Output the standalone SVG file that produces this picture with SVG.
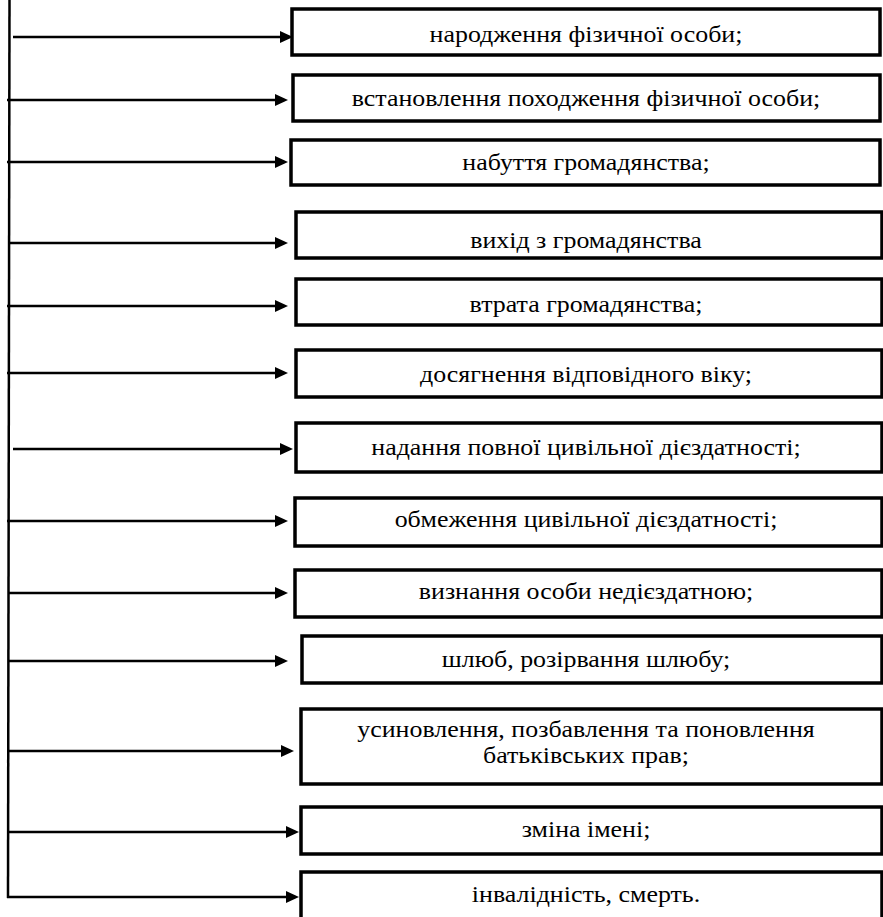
<svg xmlns="http://www.w3.org/2000/svg" width="883" height="917" viewBox="0 0 883 917">
<style>
.box{fill:#fff;stroke:#000;stroke-width:3.5}
.ln{stroke:#000;stroke-width:2.5;fill:none}
.hd{fill:#000}
text{font-family:"Liberation Serif","Times New Roman",serif;font-size:24px;fill:#000;text-anchor:middle}
</style>
<rect width="883" height="917" fill="#fff"/>
<g id="connectors">
<line class="ln" x1="9.5" y1="0" x2="8" y2="898"/>
<line class="ln" x1="13" y1="37" x2="282" y2="37"/><polygon class="hd" points="293,37 280,31 280,43"/>
<line class="ln" x1="7" y1="100" x2="277" y2="100"/><polygon class="hd" points="288,100 275,94 275,106"/>
<line class="ln" x1="7" y1="162" x2="277" y2="162"/><polygon class="hd" points="288,162 275,156 275,168"/>
<line class="ln" x1="9" y1="243" x2="277" y2="243"/><polygon class="hd" points="288,243 275,237 275,249"/>
<line class="ln" x1="7" y1="306" x2="277" y2="306"/><polygon class="hd" points="288,306 275,300 275,312"/>
<line class="ln" x1="7" y1="373" x2="277" y2="373"/><polygon class="hd" points="288,373 275,367 275,379"/>
<line class="ln" x1="13" y1="449" x2="282" y2="449"/><polygon class="hd" points="293,449 280,443 280,455"/>
<line class="ln" x1="7" y1="521" x2="277" y2="521"/><polygon class="hd" points="288,521 275,515 275,527"/>
<line class="ln" x1="9" y1="593" x2="277" y2="593"/><polygon class="hd" points="288,593 275,587 275,599"/>
<line class="ln" x1="9" y1="661" x2="277" y2="661"/><polygon class="hd" points="288,661 275,655 275,667"/>
<line class="ln" x1="7" y1="751" x2="283" y2="751"/><polygon class="hd" points="294,751 281,745 281,757"/>
<line class="ln" x1="9" y1="832" x2="288" y2="832"/><polygon class="hd" points="299,832 286,826 286,838"/>
<line class="ln" x1="7" y1="897" x2="288" y2="897"/><polygon class="hd" points="299,897 286,891 286,903"/>
</g>
<g id="n1"><rect class="box" x="292" y="9" width="588" height="46"/><text x="586" y="42" transform="matrix(1.08 0 0 1 -46.88 0)">народження фізичної особи;</text></g>
<g id="n2"><rect class="box" x="293" y="75" width="587" height="46"/><text x="586" y="106" transform="matrix(1.08 0 0 1 -46.88 0)">встановлення походження фізичної особи;</text></g>
<g id="n3"><rect class="box" x="291" y="140" width="589" height="45"/><text x="586" y="170" transform="matrix(1.08 0 0 1 -46.88 0)">набуття громадянства;</text></g>
<g id="n4"><rect class="box" x="296" y="212" width="586" height="46"/><text x="586" y="248" transform="matrix(1.08 0 0 1 -46.88 0)">вихід з громадянства</text></g>
<g id="n5"><rect class="box" x="296" y="279" width="586" height="46"/><text x="586" y="312" transform="matrix(1.08 0 0 1 -46.88 0)">втрата громадянства;</text></g>
<g id="n6"><rect class="box" x="296" y="350" width="586" height="47"/><text x="586" y="382" transform="matrix(1.08 0 0 1 -46.88 0)">досягнення відповідного віку;</text></g>
<g id="n7"><rect class="box" x="296" y="423" width="586" height="49"/><text x="586" y="455" transform="matrix(1.08 0 0 1 -46.88 0)">надання повної цивільної дієздатності;</text></g>
<g id="n8"><rect class="box" x="295" y="498" width="587" height="48"/><text x="586" y="527" transform="matrix(1.08 0 0 1 -46.88 0)">обмеження цивільної дієздатності;</text></g>
<g id="n9"><rect class="box" x="295" y="570" width="587" height="47"/><text x="586" y="599" transform="matrix(1.08 0 0 1 -46.88 0)">визнання особи недієздатною;</text></g>
<g id="n10"><rect class="box" x="302" y="636" width="580" height="47"/><text x="586" y="667" transform="matrix(1.08 0 0 1 -46.88 0)">шлюб, розірвання шлюбу;</text></g>
<g id="n11"><rect class="box" x="301" y="709" width="581" height="75"/><text x="586" y="737" transform="matrix(1.08 0 0 1 -46.88 0)">усиновлення, позбавлення та поновлення</text><text x="586" y="763" transform="matrix(1.08 0 0 1 -46.88 0)">батьківських прав;</text></g>
<g id="n12"><rect class="box" x="301" y="807" width="581" height="47"/><text x="586" y="837" transform="matrix(1.08 0 0 1 -46.88 0)">зміна імені;</text></g>
<g id="n13"><rect class="box" x="301" y="872" width="581" height="60"/><text x="586" y="902" transform="matrix(1.08 0 0 1 -46.88 0)">інвалідність, смерть.</text></g>
</svg>
